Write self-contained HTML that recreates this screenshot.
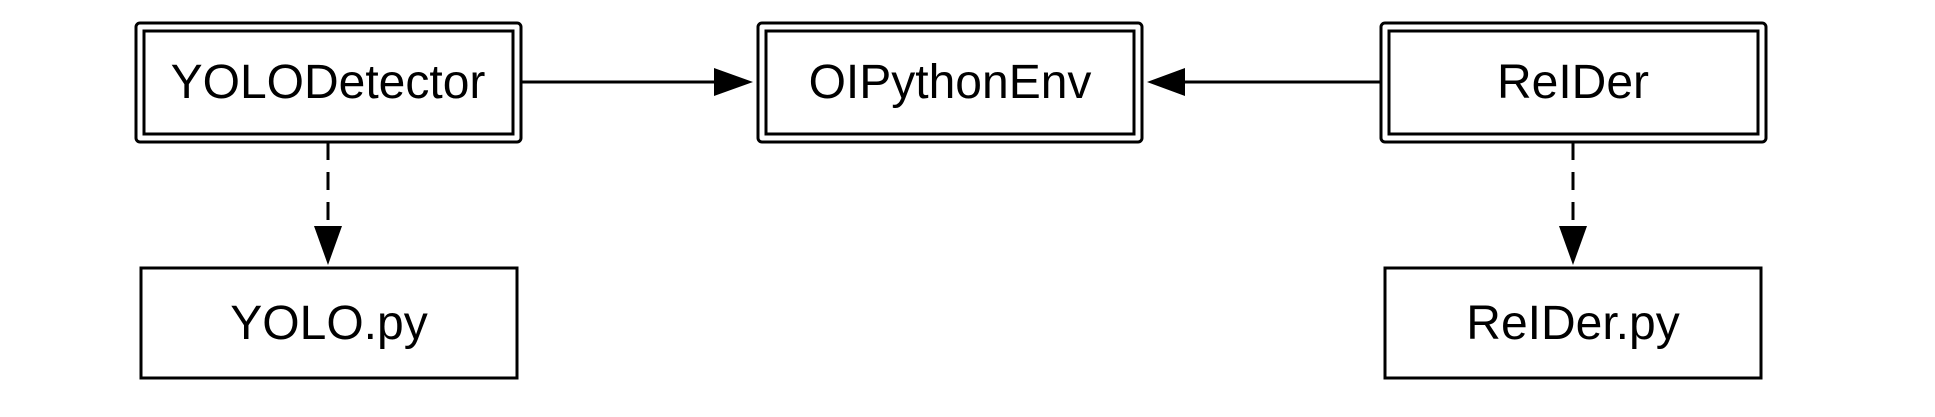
<!DOCTYPE html>
<html><head><meta charset="utf-8"><style>
html,body{margin:0;padding:0;background:#fff;width:1935px;height:417px;overflow:hidden}
text{font-family:"Liberation Sans",Helvetica,Arial,sans-serif;font-size:48px;fill:#000}
</style></head><body>
<svg width="1935" height="417" viewBox="0 0 1935 417" xmlns="http://www.w3.org/2000/svg">
<g fill="none" stroke="#000" stroke-width="3">
<rect x="136" y="23" width="385" height="119" rx="4"/>
<rect x="144" y="31" width="369" height="103"/>
<rect x="758" y="23" width="384" height="119" rx="4"/>
<rect x="766" y="31" width="368" height="103"/>
<rect x="1381" y="23" width="385" height="119" rx="4"/>
<rect x="1389" y="31" width="369" height="103"/>
<rect x="141" y="268" width="376" height="110"/>
<rect x="1385" y="268" width="376" height="110"/>
<line x1="521" y1="82" x2="716" y2="82"/>
<line x1="1183" y1="82" x2="1381" y2="82"/>
<line x1="328" y1="142" x2="328" y2="228" stroke-dasharray="18,12"/>
<line x1="1573" y1="142" x2="1573" y2="228" stroke-dasharray="18,12"/>
</g>
<polygon points="714,68 753,82 714,96" fill="#000"/>
<polygon points="1185,68 1147,82 1185,96" fill="#000"/>
<polygon points="314,226 342,226 328,265" fill="#000"/>
<polygon points="1559,226 1587,226 1573,265" fill="#000"/>
<text x="328" y="98" text-anchor="middle">YOLODetector</text>
<text x="950" y="98" text-anchor="middle">OIPythonEnv</text>
<text x="1573" y="98" text-anchor="middle">ReIDer</text>
<text x="329" y="339" text-anchor="middle">YOLO.py</text>
<text x="1573" y="339" text-anchor="middle">ReIDer.py</text>
</svg>
</body></html>
